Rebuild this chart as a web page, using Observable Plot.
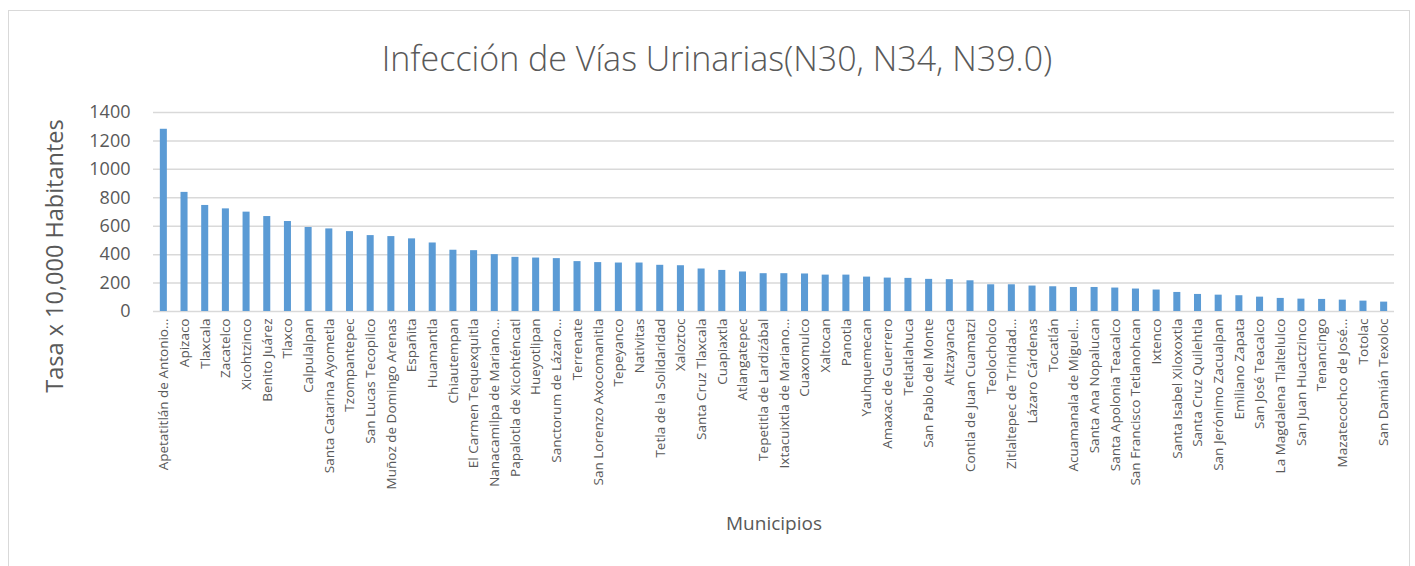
<!DOCTYPE html>
<html>
<head>
<meta charset="utf-8">
<script src="https://cdn.jsdelivr.net/npm/d3@7"></script>
<script src="https://cdn.jsdelivr.net/npm/@observablehq/plot@0.6"></script>
<style>
  html, body { margin: 0; padding: 0; background: #fff; }
  #wrap { position: relative; width: 1415px; height: 566px; overflow: hidden; }
  #frame { position: absolute; left: 8px; top: 10px; width: 1402px; height: 600px; border: 1px solid #d9d9d9; box-sizing: border-box; }
  #chart { position: absolute; left: 0; top: 0; }
</style>
</head>
<body>
<div id="wrap"><div id="frame"></div><div id="chart"></div></div>
<script>
const title = "Infección de Vías Urinarias(N30, N34, N39.0)";
const yTitle = "Tasa x 10,000 Habitantes";
const xTitle = "Municipios";

const municipios = [
  "Apetatitlán de Antonio…", "Apizaco", "Tlaxcala", "Zacatelco", "Xicohtzinco",
  "Benito Juárez", "Tlaxco", "Calpulalpan", "Santa Catarina Ayometla", "Tzompantepec",
  "San Lucas Tecopilco", "Muñoz de Domingo Arenas", "Españita", "Huamantla", "Chiautempan",
  "El Carmen Tequexquitla", "Nanacamilpa de Mariano…", "Papalotla de Xicohténcatl", "Hueyotlipan", "Sanctorum de Lázaro…",
  "Terrenate", "San Lorenzo Axocomanitla", "Tepeyanco", "Nativitas", "Tetla de la Solidaridad",
  "Xaloztoc", "Santa Cruz Tlaxcala", "Cuapiaxtla", "Atlangatepec", "Tepetitla de Lardizábal",
  "Ixtacuixtla de Mariano…", "Cuaxomulco", "Xaltocan", "Panotla", "Yauhquemecan",
  "Amaxac de Guerrero", "Tetlatlahuca", "San Pablo del Monte", "Altzayanca", "Contla de Juan Cuamatzi",
  "Teolocholco", "Zitlaltepec de Trinidad…", "Lázaro Cárdenas", "Tocatlán", "Acuamanala de Miguel…",
  "Santa Ana Nopalucan", "Santa Apolonia Teacalco", "San Francisco Tetlanohcan", "Ixtenco", "Santa Isabel Xiloxoxtla",
  "Santa Cruz Quilehtla", "San Jerónimo Zacualpan", "Emiliano Zapata", "San José Teacalco", "La Magdalena Tlaltelulco",
  "San Juan Huactzinco", "Tenancingo", "Mazatecochco de José…", "Totolac", "San Damián Texoloc"
];

const tasas = [
  1282, 838, 746, 722, 699,
  668, 633, 591, 581, 562,
  534, 527, 511, 482, 431,
  428, 400, 381, 376, 372,
  351, 344, 341, 341, 325,
  322, 299, 289, 278, 266,
  266, 264, 256, 256, 242,
  235, 233, 226, 224, 216,
  188, 188, 179, 174, 169,
  169, 165, 158, 151, 134,
  120, 115, 111, 101, 92,
  87, 85, 80, 73, 66
];

const yTicks = [0, 200, 400, 600, 800, 1000, 1200, 1400];

const data = municipios.map((m, i) => ({municipio: m, tasa: tasas[i]}));

const textColor = "#595959";
const font = "'Open Sans', 'DejaVu Sans', sans-serif";

const chart = Plot.plot({
  width: 1415,
  height: 566,
  marginTop: 112,
  marginBottom: 255,
  marginLeft: 153,
  marginRight: 21,
  style: {fontFamily: font, color: textColor, background: "transparent"},
  x: {domain: municipios, paddingInner: 0.66, paddingOuter: 0.33, label: null},
  y: {domain: [0, 1400], label: null},
  marks: [
    Plot.ruleY(yTicks, {stroke: "#d9d9d9", strokeWidth: 1.5}),
    Plot.barY(data, {x: "municipio", y: "tasa", fill: "#5b9bd5"}),
    Plot.axisY({ticks: yTicks, tickFormat: d => String(d), tickSize: 0, tickPadding: 23, fontSize: 18, fill: textColor, label: null}),
    Plot.axisX({tickSize: 0, tickPadding: 7, tickRotate: -90, fontSize: 13.5, fill: textColor, label: null}),
    Plot.text([title], {frameAnchor: "top", lineAnchor: "middle", dx: -57, dy: -52, fontSize: 34, fill: textColor, fontWeight: 300}),
    Plot.text([yTitle], {frameAnchor: "left", textAnchor: "middle", lineAnchor: "middle", dx: -98, dy: 44, rotate: -90, fontSize: 23.5, fill: textColor}),
    Plot.text([xTitle], {frameAnchor: "bottom", lineAnchor: "middle", dy: 212, fontSize: 19, fill: textColor})
  ]
});
document.getElementById("chart").appendChild(chart);
</script>
</body>
</html>
